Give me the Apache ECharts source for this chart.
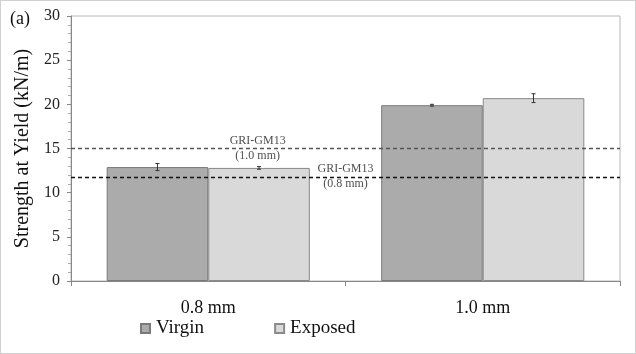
<!DOCTYPE html>
<html>
<head>
<meta charset="utf-8">
<script src="https://cdn.jsdelivr.net/npm/echarts@6/dist/echarts.min.js"></script>
<style>
  html, body { margin: 0; padding: 0; background: #fff; }
  #chart { width: 636px; height: 354px; box-sizing: border-box; border: 1px solid #d0d0d0; }
</style>
</head>
<body>
<div id="chart"></div>
<script>
// data
const categories = ['0.8 mm', '1.0 mm']
const virgin = [12.9, 19.9]
const virginErr = [0.4, 0.1]
const exposed = [12.8, 20.7]
const exposedErr = [0.15, 0.5]
const yTicks = [0, 5, 10, 15, 20, 25, 30]
// GRI-GM13 thresholds: [value, label x position on 0..2 scale, label]
const thresholds = [
  { value: 15, x: 0.68, text: '(1.0 mm)', color: '#555' },
  { value: 11.8, x: 1.0, text: '(0.8 mm)', color: '#111' }
]

const font = 'Liberation Serif'
const chart = echarts.init(document.getElementById('chart'))

// error bar renderer, shifted to the bar in the group
const errorBar = (vals, errs, shift) => (params, api) => {
  const i = api.value(0)
  const cw = api.size([1, 0])[0]
  const x = api.coord([i, 0])[0] + shift * cw
  const top = api.coord([i, vals[i] + errs[i]])[1]
  const bot = api.coord([i, vals[i] - errs[i]])[1]
  const style = { stroke: '#333', lineWidth: 1 }
  return {
    type: 'group',
    children: [
      { type: 'line', shape: { x1: x, y1: top, x2: x, y2: bot }, style },
      { type: 'line', shape: { x1: x - 2, y1: top, x2: x + 2, y2: top }, style },
      { type: 'line', shape: { x1: x - 2, y1: bot, x2: x + 2, y2: bot }, style }
    ]
  }
}

const option = {
  animation: false,
  title: {
    text: '(a)', left: 4, top: 4,
    textStyle: { fontFamily: font, fontSize: 18, fontWeight: 'normal', color: '#111' }
  },
  legend: {
    data: ['Virgin', 'Exposed'],
    left: 134, top: 313,
    icon: 'rect', itemWidth: 9, itemHeight: 9, itemGap: 70,
    textStyle: { fontFamily: font, fontSize: 19, color: '#111', padding: [0, 0, 0, 1] }
  },
  grid: { left: 70, right: 15, top: 15, bottom: 72, show: true, borderColor: '#b8b8b8', borderWidth: 1 },
  xAxis: [
    {
      type: 'category', data: categories,
      axisLine: { lineStyle: { color: '#888' } },
      axisTick: { show: true, length: 5, lineStyle: { color: '#888' } },
      axisLabel: { fontFamily: font, fontSize: 18, color: '#111', margin: 18 }
    },
    { type: 'value', min: 0, max: 2, show: false }
  ],
  yAxis: {
    type: 'value', min: 0, max: 30, interval: 5,
    name: 'Strength at Yield (kN/m)', nameLocation: 'middle', nameGap: 33,
    nameTextStyle: { fontFamily: font, fontSize: 20, color: '#111' },
    axisLine: { show: true, lineStyle: { color: '#888' } },
    axisTick: { show: true, length: 4, lineStyle: { color: '#888' } },
    minorTick: { show: true, splitNumber: 5, length: 3, lineStyle: { color: '#aaa' } },
    splitLine: { show: false },
    axisLabel: { fontFamily: font, fontSize: 16, color: '#222', margin: 11,
      formatter: v => yTicks.includes(v) ? String(v) : '' }
  },
  series: [
    {
      name: 'Virgin', type: 'bar', data: virgin,
      barGap: '0%', barCategoryGap: '26%',
      itemStyle: { color: '#ababab', borderColor: '#7a7a7a', borderWidth: 1 },
      markLine: {
        symbol: 'none', silent: true, label: { show: false },
        data: thresholds.map(t => ({ yAxis: t.value, lineStyle: { color: t.color, type: [4, 3], width: 1.3 } }))
      }
    },
    {
      name: 'Exposed', type: 'bar', data: exposed,
      itemStyle: { color: '#d9d9d9', borderColor: '#8a8a8a', borderWidth: 1 }
    },
    {
      type: 'custom', data: categories.map((c, i) => [i]),
      renderItem: errorBar(virgin, virginErr, -0.185), z: 5, silent: true
    },
    {
      type: 'custom', data: categories.map((c, i) => [i]),
      renderItem: errorBar(exposed, exposedErr, 0.185), z: 5, silent: true
    },
    {
      type: 'scatter', xAxisIndex: 1, symbolSize: 0, silent: true, z: 6,
      data: thresholds.map(t => [t.x, t.value, t.text]),
      label: {
        show: true, position: 'inside',
        formatter: p => 'GRI-GM13\n' + p.data[2],
        fontFamily: font, fontSize: 12, lineHeight: 15, color: '#222', align: 'center'
      }
    }
  ]
}

chart.setOption(option)
</script>
</body>
</html>
